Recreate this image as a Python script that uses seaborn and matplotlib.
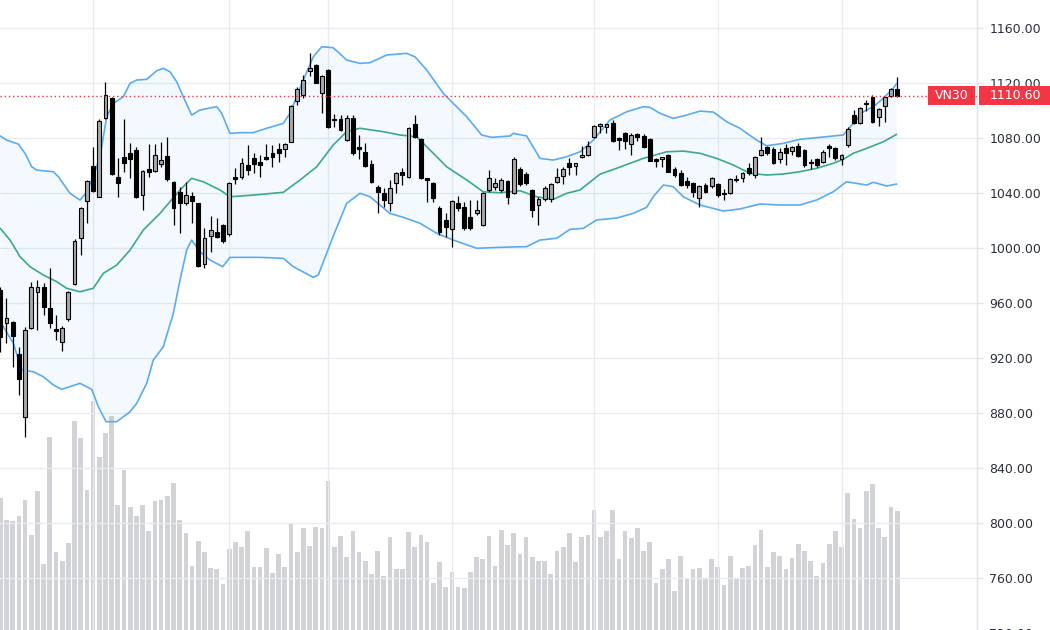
import numpy as np
import matplotlib
matplotlib.use("Agg")
import matplotlib.pyplot as plt
import seaborn as sns
from matplotlib.patches import Rectangle
from matplotlib.transforms import blended_transform_factory
from matplotlib.ticker import FormatStrFormatter, MultipleLocator

# ---------------- data ----------------
opens = [969.5, 945.5, 946.4, 922.9, 877.3, 941.6, 967.8, 971.4, 956.1, 941.0,
         931.9, 948.1, 973.8, 1007.1, 1034.4, 1059.6, 1037.3, 1094.3, 1108.9, 1051.4,
         1066.0, 1069.3, 1071.3, 1038.5, 1057.2, 1056.2, 1061.1, 1066.9, 1048.2, 1041.0,
         1033.0, 1037.8, 1032.5, 988.4, 1008.7, 1011.8, 1016.7, 1010.0, 1051.9, 1051.9,
         1060.4, 1065.2, 1062.8, 1066.4, 1068.9, 1071.8, 1071.8, 1077.3, 1107.1, 1111.3,
         1128.7, 1133.1, 1113.0, 1129.5, 1094.0, 1093.6, 1078.5, 1094.3, 1073.2, 1070.0,
         1061.1, 1044.6, 1040.2, 1032.5, 1047.5, 1055.5, 1051.9, 1090.2, 1079.0, 1050.7,
         1047.5, 1028.9, 1020.4, 1013.6, 1032.5, 1030.0, 1022.8, 1025.2, 1016.7, 1042.2,
         1044.1, 1042.2, 1048.5, 1040.2, 1057.2, 1053.8, 1042.2, 1031.3, 1035.4, 1035.4,
         1048.2, 1052.4, 1061.6, 1059.6, 1066.4, 1067.6, 1081.0, 1088.7, 1088.2, 1090.7,
         1079.8, 1083.4, 1075.6, 1082.9, 1081.5, 1079.0, 1064.5, 1064.5, 1067.6, 1057.2,
         1054.8, 1048.7, 1047.5, 1036.1, 1045.8, 1045.1, 1046.3, 1040.2, 1040.2, 1049.5,
         1050.7, 1058.0, 1053.1, 1067.6, 1073.2, 1071.8, 1064.5, 1072.5, 1070.8, 1074.2,
         1071.3, 1062.8, 1064.5, 1062.8, 1074.2, 1072.5, 1064.5, 1074.9, 1096.7, 1091.1,
         1105.7, 1110.0, 1095.1, 1103.3, 1110.5, 1115.4]
highs = [972.0, 963.6, 947.0, 928.2, 942.8, 975.5, 976.7, 974.3, 985.2, 951.3,
         943.0, 968.5, 1006.5, 1029.5, 1049.5, 1073.7, 1093.6, 1121.0, 1109.5, 1065.2,
         1093.6, 1076.6, 1073.7, 1057.0, 1075.6, 1076.0, 1077.3, 1081.0, 1049.0, 1044.6,
         1048.2, 1041.0, 1033.0, 1014.3, 1023.3, 1021.6, 1017.5, 1048.0, 1058.0, 1065.2,
         1074.9, 1068.9, 1067.6, 1075.6, 1074.9, 1076.6, 1076.6, 1104.0, 1117.3, 1125.8,
         1142.0, 1134.0, 1126.0, 1130.0, 1097.5, 1096.7, 1096.7, 1096.7, 1082.2, 1076.6,
         1064.0, 1045.8, 1043.4, 1049.5, 1055.5, 1058.0, 1088.2, 1096.7, 1080.0, 1051.0,
         1048.0, 1030.5, 1025.2, 1034.9, 1037.8, 1033.7, 1034.9, 1034.9, 1041.0, 1056.7,
         1050.7, 1051.0, 1049.5, 1066.4, 1058.7, 1055.5, 1042.7, 1036.9, 1045.1, 1047.5,
         1058.0, 1059.1, 1065.7, 1062.0, 1074.2, 1078.0, 1089.5, 1091.1, 1090.5, 1093.1,
         1081.0, 1084.6, 1083.4, 1083.9, 1082.9, 1079.8, 1065.2, 1066.4, 1068.4, 1058.7,
         1056.7, 1051.9, 1048.2, 1045.8, 1047.5, 1051.9, 1047.5, 1042.7, 1050.7, 1053.1,
         1055.5, 1061.6, 1067.0, 1081.0, 1074.2, 1073.7, 1072.5, 1075.6, 1074.5, 1076.6,
         1071.8, 1064.5, 1065.7, 1071.3, 1075.6, 1073.7, 1068.2, 1088.2, 1100.4, 1102.8,
         1107.6, 1111.3, 1101.6, 1110.0, 1116.1, 1124.1]
lows = [924.4, 931.0, 913.7, 893.1, 862.8, 941.0, 940.4, 951.3, 941.6, 933.1,
        925.3, 947.0, 973.0, 994.9, 1018.0, 1041.0, 1036.9, 1094.0, 1053.0, 1036.9,
        1055.5, 1050.7, 1036.5, 1027.6, 1051.6, 1055.0, 1058.7, 1049.0, 1016.7, 1011.1,
        1031.3, 1018.0, 986.0, 985.2, 997.3, 1007.0, 1004.0, 1009.0, 1046.5, 1050.0,
        1053.1, 1054.3, 1051.9, 1064.0, 1059.1, 1062.8, 1066.4, 1077.0, 1104.0, 1108.9,
        1125.1, 1120.0, 1098.4, 1087.0, 1087.8, 1085.0, 1078.0, 1068.0, 1064.5, 1059.0,
        1047.0, 1025.2, 1030.0, 1027.1, 1039.8, 1045.8, 1051.0, 1080.0, 1050.0, 1033.7,
        1033.7, 1009.5, 1008.2, 1000.9, 1027.0, 1013.0, 1013.0, 1024.0, 1016.0, 1041.0,
        1042.2, 1041.0, 1032.0, 1039.0, 1045.0, 1046.0, 1022.3, 1016.7, 1034.0, 1033.7,
        1047.0, 1046.5, 1053.1, 1053.1, 1065.7, 1067.0, 1080.0, 1083.4, 1083.4, 1077.0,
        1071.3, 1071.8, 1067.6, 1078.0, 1073.0, 1063.0, 1058.7, 1059.0, 1055.0, 1052.0,
        1045.0, 1043.4, 1037.3, 1029.6, 1040.0, 1044.0, 1037.3, 1035.0, 1039.0, 1048.0,
        1048.2, 1053.0, 1050.7, 1067.0, 1067.6, 1061.0, 1062.0, 1060.4, 1068.0, 1066.0,
        1059.1, 1057.2, 1058.7, 1062.0, 1066.0, 1064.0, 1060.4, 1073.7, 1090.0, 1090.0,
        1099.9, 1091.0, 1088.7, 1091.9, 1110.0, 1110.0]
closes = [935.3, 949.0, 936.0, 904.5, 940.4, 971.4, 971.4, 956.9, 945.2, 939.5,
          941.6, 967.8, 1005.1, 1028.9, 1048.7, 1041.7, 1092.6, 1111.3, 1053.6, 1047.5,
          1062.0, 1064.5, 1036.9, 1056.2, 1055.5, 1067.6, 1064.0, 1050.0, 1028.9, 1033.0,
          1038.5, 1034.2, 986.9, 1007.1, 1013.1, 1008.2, 1005.3, 1047.0, 1050.0, 1062.0,
          1056.7, 1061.1, 1060.4, 1064.5, 1066.0, 1068.9, 1075.6, 1103.5, 1115.4, 1122.2,
          1130.7, 1120.2, 1125.1, 1087.8, 1093.0, 1085.8, 1094.3, 1068.9, 1071.8, 1059.6,
          1048.2, 1041.0, 1034.9, 1043.4, 1054.8, 1053.1, 1087.1, 1080.5, 1050.7, 1049.5,
          1036.1, 1011.8, 1015.5, 1034.4, 1028.9, 1014.3, 1014.3, 1027.6, 1040.2, 1050.7,
          1047.5, 1049.5, 1036.9, 1064.5, 1046.5, 1047.0, 1027.6, 1035.4, 1043.4, 1046.5,
          1051.9, 1057.2, 1059.1, 1061.6, 1067.6, 1074.2, 1088.7, 1090.0, 1090.0, 1078.0,
          1078.5, 1078.0, 1082.2, 1080.5, 1073.7, 1063.5, 1063.5, 1066.0, 1055.5, 1053.1,
          1045.8, 1045.8, 1041.0, 1045.1, 1041.0, 1051.1, 1038.5, 1039.5, 1050.0, 1050.5,
          1054.8, 1054.3, 1066.4, 1071.3, 1069.3, 1062.0, 1070.0, 1068.9, 1073.7, 1066.9,
          1060.4, 1061.6, 1060.4, 1070.0, 1072.5, 1065.2, 1067.6, 1086.3, 1090.7, 1101.6,
          1104.7, 1091.9, 1100.9, 1109.6, 1115.4, 1110.6]
volumes = [141.7, 120.0, 119.0, 124.0, 140.0, 105.3, 148.7, 76.0, 203.0, 88.0,
           79.3, 96.7, 219.3, 202.0, 150.0, 239.0, 183.3, 207.3, 224.3, 135.0,
           170.0, 132.7, 124.0, 135.0, 109.0, 138.7, 140.0, 143.7, 157.3, 120.0,
           106.7, 74.3, 99.3, 88.0, 72.0, 70.7, 56.0, 90.7, 98.0, 93.0,
           109.0, 73.0, 73.0, 91.7, 67.0, 85.7, 73.0, 116.7, 88.0, 111.7,
           94.3, 113.0, 111.7, 159.0, 93.0, 104.3, 83.0, 109.0, 88.0, 79.3,
           65.7, 89.3, 64.3, 103.0, 70.7, 70.7, 108.0, 93.0, 105.3, 98.0,
           57.0, 78.0, 53.3, 68.3, 53.3, 52.0, 68.0, 82.7, 80.7, 104.0,
           74.3, 110.0, 95.3, 106.7, 85.7, 102.7, 82.7, 79.3, 79.3, 65.7,
           89.3, 93.0, 106.7, 78.0, 102.7, 105.0, 130.0, 102.7, 109.0, 130.0,
           80.7, 109.0, 101.7, 111.7, 89.3, 98.0, 56.7, 70.7, 80.7, 49.3,
           84.0, 61.0, 70.7, 71.7, 62.0, 80.7, 73.0, 54.7, 84.0, 62.0,
           71.7, 74.3, 95.3, 110.0, 73.0, 88.0, 84.0, 70.7, 81.7, 96.3,
           89.3, 79.3, 64.3, 76.7, 96.3, 109.0, 93.0, 147.3, 121.3, 111.7,
           148.7, 156.0, 111.7, 102.7, 132.7, 128.7]

upper_idx = [0.0, 1.03, 2.91, 3.99, 5.08, 5.88, 8.57, 9.38, 11.27, 12.88,
             13.85, 15.03, 16.12, 17.2, 18.27, 19.88, 20.97, 22.05, 23.67, 25.28,
             26.35, 27.43, 28.52, 29.58, 30.94, 32.28, 34.98, 35.79, 37.13, 38.75,
             40.9, 43.07, 45.75, 46.83, 48.98, 50.6, 51.96, 53.83, 56.0, 58.15,
             59.76, 62.46, 65.7, 67.04, 68.93, 71.61, 73.23, 75.4, 77.82, 79.44,
             82.4, 82.93, 85.09, 87.25, 89.4, 91.56, 93.71, 95.86, 98.56, 101.26,
             103.95, 105.03, 106.65, 108.79, 110.96, 113.11, 115.27, 117.42, 119.57, 122.27,
             123.89, 126.57, 129.27, 132.51, 134.66, 136.28, 137.89, 139.51, 141.13, 142.75,
             144.36, 144.91]
upper_val = [1081.5, 1078.5, 1075.6, 1068.9, 1059.1, 1056.7, 1055.5, 1051.9, 1039.8, 1034.9,
             1040.0, 1051.9, 1066.4, 1095.5, 1105.2, 1110.0, 1119.8, 1122.2, 1122.7, 1128.9,
             1130.7, 1128.2, 1120.9, 1110.0, 1096.7, 1100.4, 1102.8, 1098.0, 1083.4, 1083.9,
             1083.9, 1087.1, 1090.7, 1098.0, 1122.2, 1139.1, 1146.4, 1145.7, 1136.7, 1134.3,
             1134.8, 1140.4, 1141.6, 1139.1, 1129.5, 1112.5, 1105.2, 1095.5, 1082.2, 1080.5,
             1081.5, 1083.4, 1081.5, 1065.2, 1064.0, 1066.4, 1070.0, 1078.5, 1093.1, 1099.1,
             1102.8, 1102.3, 1098.0, 1094.3, 1096.7, 1099.6, 1098.9, 1091.9, 1087.1, 1078.5,
             1074.4, 1076.1, 1079.1, 1080.5, 1081.5, 1082.2, 1090.7, 1099.1, 1102.8, 1108.9,
             1116.1, 1119.8]
mid_idx = [0.0, 1.57, 3.19, 4.8, 6.95, 9.12, 10.73, 12.88, 15.03, 16.65,
           18.82, 20.97, 23.12, 25.82, 29.05, 30.94, 32.82, 35.52, 37.13, 40.9,
           45.75, 48.45, 51.15, 53.83, 56.0, 58.15, 61.92, 64.61, 67.31, 70.0,
           72.16, 75.4, 78.08, 80.78, 84.01, 86.71, 89.4, 91.56, 93.71, 96.95,
           99.65, 103.95, 107.73, 110.41, 113.11, 115.81, 118.5, 121.2, 123.89, 126.57,
           129.27, 131.97, 134.66, 136.28, 137.89, 140.06, 142.75, 144.91]
mid_val = [1014.3, 1005.8, 993.7, 986.4, 980.4, 975.5, 970.7, 968.2, 970.7, 981.6,
           987.6, 998.5, 1013.1, 1025.2, 1042.2, 1050.7, 1048.2, 1042.2, 1037.3, 1038.5,
           1040.5, 1049.5, 1059.1, 1075.0, 1084.6, 1087.1, 1084.6, 1082.2, 1080.9, 1068.9,
           1059.1, 1049.5, 1040.9, 1040.2, 1041.7, 1037.3, 1035.4, 1039.8, 1042.2, 1053.7,
           1058.0, 1065.2, 1070.0, 1070.5, 1068.9, 1065.2, 1060.4, 1054.3, 1053.1, 1053.8,
           1055.5, 1058.0, 1061.6, 1064.5, 1068.9, 1072.5, 1077.3, 1082.7]
lower_idx = [0.0, 2.1, 3.46, 5.34, 6.95, 8.57, 9.93, 12.88, 14.78, 15.84,
             17.09, 18.82, 20.97, 22.05, 23.67, 24.73, 26.35, 27.97, 29.05, 30.13,
             30.94, 32.28, 33.9, 35.95, 37.13, 41.98, 45.75, 47.37, 50.6, 51.41,
             53.83, 56.0, 58.15, 59.76, 62.99, 65.15, 67.85, 70.55, 73.23, 77.01,
             80.78, 85.09, 87.25, 89.95, 92.1, 94.25, 96.41, 99.65, 102.33, 104.49,
             105.56, 107.18, 108.79, 110.41, 113.11, 116.88, 119.57, 122.8, 126.04, 129.27,
             131.97, 134.66, 136.82, 140.06, 141.13, 143.3, 144.91]
lower_val = [946.4, 930.7, 911.3, 910.0, 906.4, 900.4, 897.2, 901.6, 897.2, 884.6,
             873.7, 873.7, 880.9, 887.0, 901.6, 918.5, 928.2, 952.5, 976.7, 998.5,
             1005.8, 997.3, 991.3, 986.4, 993.2, 993.2, 992.5, 986.4, 978.7, 980.4,
             1008.7, 1032.5, 1039.8, 1037.3, 1025.2, 1022.3, 1018.0, 1010.7, 1005.8, 999.8,
             1000.5, 1001.0, 1005.8, 1007.1, 1013.6, 1014.3, 1020.4, 1021.8, 1025.2, 1029.6,
             1037.3, 1045.8, 1044.6, 1037.3, 1031.3, 1026.9, 1028.4, 1032.0, 1031.3, 1031.3,
             1034.9, 1040.9, 1048.2, 1045.8, 1047.8, 1045.1, 1046.5]

month_starts = [15, 37, 53, 73, 96, 116, 136]
symbol = "VN30"

# ---------------- figure ----------------
sns.set_style("white")
plt.rcParams["font.family"] = ["DejaVu Sans"]

W, H = 1050, 630
fig = plt.figure(figsize=(W / 100, H / 100), dpi=100)
pos = [0, -10 / H, 977 / W, 640 / H]
ax_v = fig.add_axes(pos)
ax = fig.add_axes(pos, sharex=ax_v)
ax.patch.set_alpha(0)

n = len(closes)
idx = np.arange(n)
o = np.array(opens); c = np.array(closes)
h = np.array(highs); l = np.array(lows)

# volume
ax_v.bar(idx, volumes, width=0.76, color="#9598a1", alpha=0.42, linewidth=0)
ax_v.set_ylim(0, 640)
ax_v.set_yticks([])
for s in ax_v.spines.values():
    s.set_visible(False)
ax_v.tick_params(axis="x", length=0, labelbottom=False)

# grid
ax.set_xticks(month_starts)
ax.yaxis.set_major_locator(MultipleLocator(40))
ax.grid(True, color="#e9ebf0", linewidth=1.0, zorder=0)
ax.set_axisbelow(True)

# bollinger fill + lines
ax.fill(np.concatenate([upper_idx, lower_idx[::-1]]),
        np.concatenate([upper_val, lower_val[::-1]]),
        color="#2196f3", alpha=0.05, linewidth=0, zorder=1)
sns.lineplot(x=upper_idx, y=upper_val, ax=ax, color="#5aabf2", linewidth=1.2,
             sort=False, estimator=None, zorder=2)
sns.lineplot(x=lower_idx, y=lower_val, ax=ax, color="#5aabf2", linewidth=1.2,
             sort=False, estimator=None, zorder=2)
sns.lineplot(x=mid_idx, y=mid_val, ax=ax, color="#3ba891", linewidth=1.2,
             sort=False, estimator=None, zorder=2)

# candles
up = c >= o
ax.vlines(idx, l, h, color="black", linewidth=0.9, zorder=3)
body_bot = np.minimum(o, c)
body_h = np.maximum(np.abs(c - o), 0.7)
ax.bar(idx[up], body_h[up], bottom=body_bot[up], width=0.62, color="#a9a9a9",
       edgecolor="black", linewidth=0.8, zorder=4)
ax.bar(idx[~up], body_h[~up], bottom=body_bot[~up], width=0.62, color="black",
       edgecolor="black", linewidth=0.8, zorder=4)

# last price line
last = closes[-1]
ax.axhline(last, color="#f23645", linewidth=1.0, linestyle=(0, (1, 2)), zorder=5)

ax.set_xlim(-0.05, 157.9)
ax.set_ylim(714.9, 1180.4)

# axes styling
for side in ["top", "left", "bottom"]:
    ax.spines[side].set_visible(False)
ax.spines["right"].set_color("#e0e3eb")
ax.spines["right"].set_linewidth(1.0)
ax.yaxis.tick_right()
ax.yaxis.set_major_formatter(FormatStrFormatter("%.2f"))
ax.tick_params(axis="y", colors="#e0e3eb", labelcolor="#2a2e39", length=4,
               width=1, pad=5, labelsize=9)
ax.tick_params(axis="x", length=0, labelbottom=False)
ax.set_xlabel(""); ax.set_ylabel("")

# price labels
trans = blended_transform_factory(fig.transFigure, ax.transData)
box_h = 19 / 1.375
fig.add_artist(Rectangle((928 / W, last - box_h / 2), 47 / W, box_h, transform=trans,
                         facecolor="#f23645", edgecolor="none", zorder=10, clip_on=False))
fig.add_artist(Rectangle((979 / W, last - box_h / 2), 71 / W, box_h, transform=trans,
                         facecolor="#f23645", edgecolor="none", zorder=10, clip_on=False))
fig.text(951.5 / W, last, symbol, transform=trans, ha="center", va="center",
         color="white", fontsize=9, zorder=11)
fig.text(1015 / W, last, f"{last:.2f}", transform=trans, ha="center", va="center",
         color="white", fontsize=9, zorder=11)

fig.savefig("out.png", dpi=100)
